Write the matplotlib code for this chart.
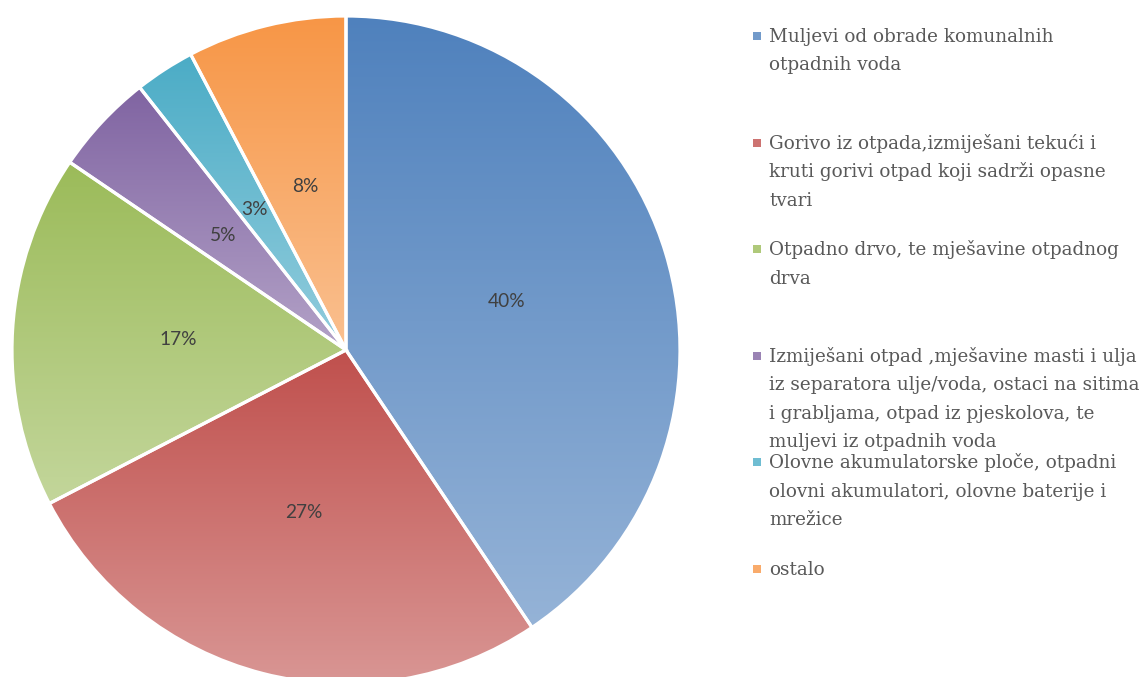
import numpy as np
import matplotlib
matplotlib.use("Agg")
import matplotlib.pyplot as plt
from matplotlib.colors import to_rgb
from matplotlib.patches import Rectangle

# ---- data ----
categories = [
    "Muljevi od obrade komunalnih\notpadnih voda",
    "Gorivo iz otpada,izmiješani tekući i\nkruti gorivi otpad koji sadrži opasne\ntvari",
    "Otpadno drvo, te mješavine otpadnog\ndrva",
    "Izmiješani otpad ,mješavine masti i ulja\niz separatora ulje/voda, ostaci na sitima\ni grabljama, otpad iz pjeskolova, te\nmuljevi iz otpadnih voda",
    "Olovne akumulatorske ploče, otpadni\nolovni akumulatori, olovne baterije i\nmrežice",
    "ostalo",
]
values = [40.6, 26.8, 17.1, 4.9, 2.9, 7.7]
pct_labels = ["40%", "27%", "17%", "5%", "3%", "8%"]
top_colors = ["#4F81BD", "#C0504D", "#9BBB59", "#8064A2", "#4BACC6", "#F79646"]
bottom_colors = ["#95B3D7", "#D99694", "#C3D69B", "#B3A2C7", "#93CDDD", "#FAC090"]

W, H = 1143, 677
fig = plt.figure(figsize=(W / 100, H / 100), dpi=100)

cx, cy, R = 346, 350, 334
ax = fig.add_axes([(cx - R) / W, (H - cy - R) / H, 2 * R / W, 2 * R / H])

it = iter(pct_labels)
wedges, texts, autotexts = ax.pie(
    values, startangle=90, counterclock=False, radius=1,
    autopct=lambda p: next(it), pctdistance=0.503,
    wedgeprops=dict(facecolor="none", edgecolor="white", linewidth=2.3),
    textprops=dict(color="#404040", fontsize=13.8, family=["Lato", "DejaVu Sans"]),
)
ax.set_xlim(-1, 1)
ax.set_ylim(-1, 1)
ax.set_aspect("equal")
ax.axis("off")

for w, ct, cb in zip(wedges, top_colors, bottom_colors):
    w.set_zorder(3)
    bb = w.get_path().get_extents(w.get_patch_transform())
    n = 256
    t = np.linspace(0, 1, n)[:, None]
    c0 = np.array(to_rgb(ct))
    c1 = np.array(to_rgb(cb))
    grad = (c0[None, :] * (1 - t) + c1[None, :] * t)[:, None, :]
    im = ax.imshow(grad, extent=[bb.x0, bb.x1, bb.y0, bb.y1], origin="upper",
                   aspect="auto", interpolation="bilinear", zorder=1)
    im.set_clip_path(w)
for t_ in autotexts:
    t_.set_zorder(5)
ax.set_xlim(-1, 1)
ax.set_ylim(-1, 1)

# ---- legend (manual) ----
first_base = 42
entry_step = 106.6
line_step = 28.5
text_x = 769
for i, (lab, ct, cb) in enumerate(zip(categories, top_colors, bottom_colors)):
    base = first_base + i * entry_step
    mid = (np.array(to_rgb(ct)) + np.array(to_rgb(cb))) / 2
    fig.patches.append(Rectangle(((753) / W, (H - base + 2) / H), 8 / W, 8 / H,
                                 transform=fig.transFigure, facecolor=mid,
                                 edgecolor="none"))
    for j, line in enumerate(lab.split("\n")):
        y = base + j * line_step
        fig.text(text_x / W, (H - y) / H, line, ha="left", va="baseline",
                 fontsize=13.2, color="#595959", family=["DejaVu Serif"])

fig.savefig("out.png", dpi=100)
